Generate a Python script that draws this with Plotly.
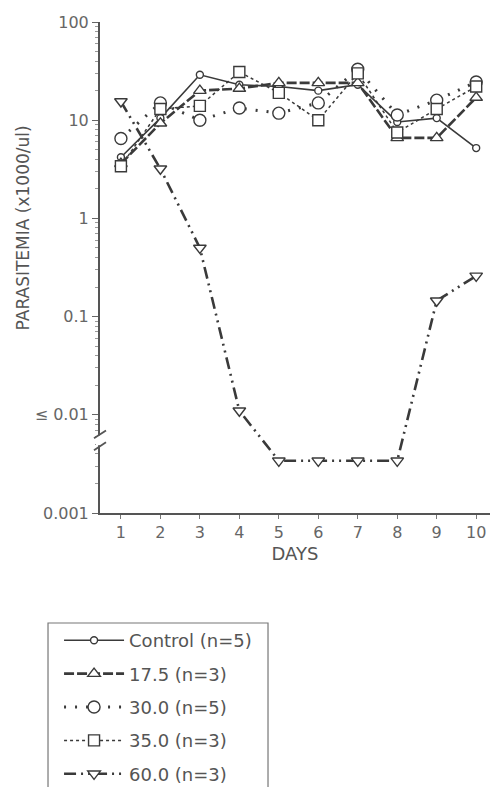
import plotly.graph_objects as go

days = [1, 2, 3, 4, 5, 6, 7, 8, 9, 10]
control = [4.2, 10.5, 29, 23, 22, 20, 23, 9.6, 10.5, 5.2]
dose_17_5 = [3.6, 9.3, 20, 21, 24, 24, 24, 6.6, 6.6, 17]
dose_30_0 = [6.5, 15, 10, 13.3, 11.8, 15, 33, 11.3, 16, 24.5]
dose_35_0 = [3.4, 13, 14, 31, 19, 10, 30, 7.5, 13, 22]
dose_60_0 = [15.5, 3.2, 0.5, 0.011, 0.0034, 0.0034, 0.0034, 0.0034, 0.145, 0.26]

names = ["Control (n=5)", "17.5 (n=3)", "30.0 (n=5)", "35.0 (n=3)", "60.0 (n=3)"]
ytick_vals = [0.001, 0.01, 0.1, 1, 10, 100]
ytick_text = ["0.001", "≤ 0.01", "0.1", "1", "10", "100"]
minor_ticks = [m * d for d in [0.001, 0.01, 0.1, 1, 10] for m in [2, 3, 4, 5, 6, 7, 8, 9]]

ink = "#3a3a3a"
series = [
    (control, names[0], "circle", 7, dict(width=1.6, dash="solid")),
    (dose_17_5, names[1], "triangle-up", 11, dict(width=2.6, dash="10px,3px")),
    (dose_30_0, names[2], "circle", 12, dict(width=3, dash="2px,9px")),
    (dose_35_0, names[3], "square", 11, dict(width=1.5, dash="dot")),
    (dose_60_0, names[4], "triangle-down", 11, dict(width=2.6, dash="12px,5px,2px,5px,2px,5px")),
]

fig = go.Figure()
for i, (vals, name, sym, size, line) in enumerate(series):
    fig.add_trace(go.Scatter(
        x=days, y=vals, name=name, mode="lines+markers",
        line=dict(color=ink, **line),
        marker=dict(symbol=sym, size=size, color="white",
                    line=dict(color=ink, width=1.4)),
        legendgroup=f"g{i}",
    ))

font_family = "DejaVu Sans, Liberation Sans, Arial, sans-serif"
fig.update_layout(
    width=490, height=787,
    margin=dict(l=100, r=0, t=22, b=274, autoexpand=False),
    paper_bgcolor="white", plot_bgcolor="white",
    font=dict(family=font_family, color="#555", size=16),
    showlegend=True,
    legend=dict(
        x=-0.105, y=-0.222, xanchor="left", yanchor="top",
        borderwidth=0, bgcolor="rgba(0,0,0,0)",
        font=dict(size=18, color="#555"),
        traceorder="grouped", tracegroupgap=7,
        itemwidth=60,
    ),
    xaxis=dict(
        range=[0.47, 10.35], tickvals=days, ticks="outside", ticklen=4,
        tickcolor="#777", showline=True, linecolor="#555", linewidth=2,
        showgrid=False, zeroline=False, automargin=False,
        tickfont=dict(size=16, color="#666"),
        title=dict(text="DAYS", font=dict(size=18, color="#555"), standoff=6),
    ),
    yaxis=dict(
        type="log", range=[-3, 2], tickvals=ytick_vals, ticktext=ytick_text,
        ticks="outside", ticklen=6, tickcolor="#666",
        showline=True, linecolor="#555", linewidth=2,
        showgrid=False, zeroline=False, automargin=False,
        tickfont=dict(size=16, color="#666"),
        minor=dict(tickmode="array", tickvals=minor_ticks, ticks="outside",
                   ticklen=3, tickcolor="#999", tickwidth=1, showgrid=False),
    ),
    annotations=[dict(
        text="PARASITEMIA (x1000/ul)", textangle=-90,
        xref="paper", yref="paper", x=-0.197, y=0.58,
        xanchor="center", yanchor="middle", showarrow=False,
        font=dict(size=17, color="#555"),
    )],
)

# legend frame
fig.add_shape(type="rect", xref="paper", yref="paper",
              x0=-0.1333, x1=0.4308, y0=-0.7, y1=-0.224,
              line=dict(color="#777", width=1.2), fillcolor="rgba(0,0,0,0)", layer="below")

# axis break marks
fig.add_shape(type="rect", xref="paper", yref="paper", xsizemode="pixel", xanchor=0,
              x0=-4, x1=4, y0=0.138, y1=0.158, fillcolor="white", line=dict(width=0), layer="above")
fig.add_shape(type="line", xref="paper", yref="paper", xsizemode="pixel", xanchor=0,
              x0=-6, x1=6, y0=0.152, y1=0.168, line=dict(color="#555", width=1.8), layer="above")
fig.add_shape(type="line", xref="paper", yref="paper", xsizemode="pixel", xanchor=0,
              x0=-6, x1=6, y0=0.128, y1=0.144, line=dict(color="#555", width=1.8), layer="above")

fig.write_html("out.html", config={"displayModeBar": False},
               post_script="document.body.style.margin='0px';document.body.style.overflow='hidden';")
